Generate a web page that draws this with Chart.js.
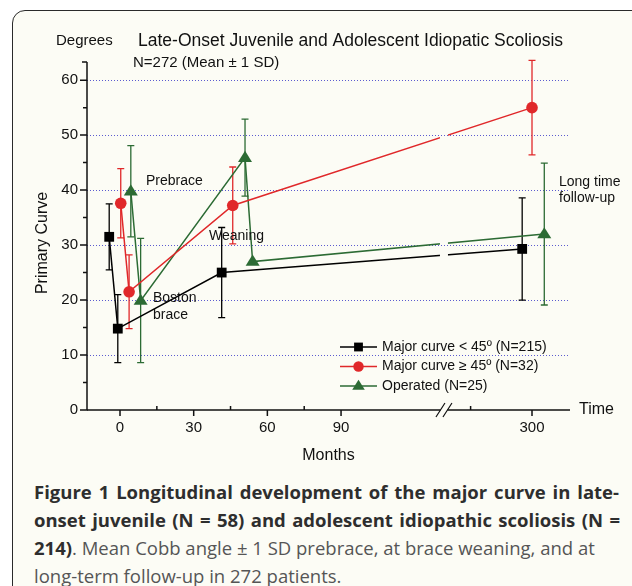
<!DOCTYPE html>
<html>
<head>
<meta charset="utf-8">
<script src="https://cdn.jsdelivr.net/npm/chart.js"></script>
<style>
html,body{margin:0;padding:0;width:632px;height:586px;overflow:hidden;background:#fff;}
#frame{position:absolute;left:12px;top:10px;width:680px;height:640px;border:1.5px solid #2a2a2a;border-radius:13px;background:#fcfcf5;box-sizing:border-box;}
#wrap{position:absolute;left:0;top:0;width:632px;height:470px;}
#caption{position:absolute;left:34px;top:478px;width:600px;font-family:"Open Sans",sans-serif;font-size:18.5px;line-height:28px;color:#555;}
#caption div{white-space:nowrap;}
#caption b{color:#2e2e2e;font-weight:700;}
</style>
</head>
<body>
<div id="frame"></div>
<div id="wrap"><canvas id="c" width="632" height="470"></canvas></div>
<div id="caption">
<div class="j" data-w="585"><b>Figure 1 Longitudinal development of the major curve in late-</b></div>
<div class="j" data-w="586"><b>onset juvenile (N = 58) and adolescent idiopathic scoliosis (N =</b></div>
<div><b>214)</b>. Mean Cobb angle ± 1 SD prebrace, at brace weaning, and at</div>
<div>long-term follow-up in 272 patients.</div>
</div>
<script>
// ---------------- data ----------------
const seriesNames = ['Major curve < 45º (N=215)', 'Major curve ≥ 45º (N=32)', 'Operated (N=25)'];

const blackMonths = [-4.4, -0.9, 41.4, 296];
const blackMean   = [31.5, 14.8, 25.0, 29.3];
const blackSD     = [6.0, 6.2, 8.2, 9.3];

const redMonths = [0.3, 3.7, 45.9, 300];
const redMean   = [37.6, 21.5, 37.2, 55.0];
const redSD     = [6.3, 6.7, 7.0, 8.6];

const greenMonths = [4.4, 8.4, 50.9, 54.0, 305];
const greenMean   = [39.8, 19.9, 45.9, 27.0, 32.0];
const greenSD     = [8.3, 11.3, 7.0, null, 12.9];

const xTickMonths  = [0, 30, 60, 90, 300];
const xMinorMonths = [15, 45, 75, 275];
const yTickValues  = [0, 10, 20, 30, 40, 50, 60];
const yMinorValues = [5, 15, 25, 35, 45, 55];

// ---------------- axis break ----------------
const BREAK_SHIFT = 132.25;     // months cut out by the "//" break
const BREAK_AT = 131.9;         // axis position of the break mark
const toAxis = m => (m > 150 ? m - BREAK_SHIFT : m);
const pts = (months, mean) => months.map((m, i) => ({x: toAxis(m), y: mean[i]}));

const FONT = '"Liberation Sans", Arial, Helvetica, sans-serif';
const INK = '#111111';
const COLORS = ['#000000', '#e0282a', '#2c6b34'];
const STYLES = ['rect', 'circle', 'triangle'];
const SIZES = [4.9, 5.8, 7.0];

Chart.defaults.font.family = FONT;
Chart.defaults.color = INK;

function drawMarker(ctx, style, x, y, s, color) {
  ctx.save();
  ctx.fillStyle = color;
  ctx.beginPath();
  if (style === 'rect') {
    ctx.rect(x - s, y - s, 2 * s, 2 * s);
  } else if (style === 'circle') {
    ctx.arc(x, y, s, 0, Math.PI * 2);
  } else {
    const h = s * 1.6;
    ctx.moveTo(x, y - h * 0.62);
    ctx.lineTo(x + s, y + h * 0.38);
    ctx.lineTo(x - s, y + h * 0.38);
    ctx.closePath();
  }
  ctx.fill();
  ctx.restore();
}

function mkDataset(i, months, mean, sd) {
  return {
    label: seriesNames[i],
    data: pts(months, mean),
    sd: sd,
    borderColor: COLORS[i],
    backgroundColor: COLORS[i],
    borderWidth: 1.5,
    pointRadius: 0,
    tension: 0,
    fill: false
  };
}

const decor = {
  id: 'decor',
  beforeDatasetsDraw(chart) {
    const {ctx, scales: {x, y}} = chart;
    chart.data.datasets.forEach((ds) => {
      ctx.save();
      ctx.strokeStyle = ds.borderColor;
      ctx.lineWidth = 1.3;
      ds.data.forEach((p, i) => {
        const sd = ds.sd[i];
        if (sd == null) return;
        const px = x.getPixelForValue(p.x);
        const t = y.getPixelForValue(p.y + sd), b = y.getPixelForValue(p.y - sd);
        ctx.beginPath();
        ctx.moveTo(px, t); ctx.lineTo(px, b);
        ctx.moveTo(px - 3.5, t); ctx.lineTo(px + 3.5, t);
        ctx.moveTo(px - 3.5, b); ctx.lineTo(px + 3.5, b);
        ctx.stroke();
      });
      ctx.restore();
    });
    const gx = x.getPixelForValue(BREAK_AT);
    ctx.save();
    ctx.beginPath();
    ctx.rect(0, 0, gx - 4, chart.height);
    ctx.rect(gx + 4, 0, chart.width - gx - 4, chart.height);
    ctx.clip();
  },
  afterDatasetsDraw(chart) {
    const {ctx, scales: {x, y}} = chart;
    ctx.restore();
    chart.data.datasets.forEach((ds, di) => {
      ds.data.forEach(p => {
        drawMarker(ctx, STYLES[di], x.getPixelForValue(p.x), y.getPixelForValue(p.y), SIZES[di], COLORS[di]);
      });
    });
  },
  afterDraw(chart) {
    const {ctx, chartArea: ca, scales: {x, y}} = chart;
    ctx.save();
    ctx.strokeStyle = INK;
    ctx.lineWidth = 1.5;
    ctx.beginPath();
    ctx.moveTo(ca.left, ca.top); ctx.lineTo(ca.left, ca.bottom + 0.75);
    ctx.moveTo(ca.left - 5, ca.top); ctx.lineTo(ca.left, ca.top);
    yTickValues.forEach(v => { const py = y.getPixelForValue(v); ctx.moveTo(ca.left - 7, py); ctx.lineTo(ca.left, py); });
    yMinorValues.forEach(v => { const py = y.getPixelForValue(v); ctx.moveTo(ca.left - 4, py); ctx.lineTo(ca.left, py); });
    ctx.stroke();
    const gx = x.getPixelForValue(BREAK_AT);
    const by = ca.bottom;
    ctx.beginPath();
    ctx.moveTo(ca.left, by); ctx.lineTo(gx - 3.5, by);
    ctx.moveTo(gx + 3.5, by); ctx.lineTo(ca.right, by);
    xTickMonths.forEach(m => { const px = x.getPixelForValue(toAxis(m)); ctx.moveTo(px, by); ctx.lineTo(px, by + 6); });
    xMinorMonths.forEach(m => { const px = x.getPixelForValue(toAxis(m)); ctx.moveTo(px, by); ctx.lineTo(px, by - 4); });
    ctx.stroke();
    ctx.lineWidth = 1.2;
    ctx.beginPath();
    [-3.5, 3.5].forEach(d => { ctx.moveTo(gx + d - 4.5, by + 7); ctx.lineTo(gx + d + 4.5, by - 7); });
    ctx.stroke();

    ctx.fillStyle = INK;
    ctx.textBaseline = 'middle';
    ctx.textAlign = 'left';
    ctx.font = '15px ' + FONT;
    ctx.fillText('Degrees', 56, 41);
    ctx.font = '17.5px ' + FONT;
    ctx.fillText('Late-Onset Juvenile and Adolescent Idiopatic Scoliosis', 138, 41);
    ctx.font = '15px ' + FONT;
    ctx.fillText('N=272 (Mean ± 1 SD)', 133, 63);
    ctx.font = '16px ' + FONT;
    ctx.fillText('Time', 579, by);
    ctx.font = '14px ' + FONT;
    ctx.fillText('Prebrace', 146, 181);
    ctx.fillText('Boston', 153, 298);
    ctx.fillText('brace', 153, 315);
    ctx.fillText('Weaning', 209, 236);
    ctx.fillText('Long time', 559, 182);
    ctx.fillText('follow-up', 559, 198);
    ctx.save();
    ctx.translate(43, 243);
    ctx.rotate(-Math.PI / 2);
    ctx.textAlign = 'center';
    ctx.font = '16px ' + FONT;
    ctx.fillText('Primary Curve', 0, 0);
    ctx.restore();

    const rows = [347, 366.5, 386];
    rows.forEach((ry, i) => {
      ctx.strokeStyle = COLORS[i];
      ctx.lineWidth = 1.5;
      ctx.beginPath(); ctx.moveTo(340, ry); ctx.lineTo(377, ry); ctx.stroke();
      drawMarker(ctx, STYLES[i], 358.5, ry, SIZES[i] * 0.9, COLORS[i]);
      ctx.fillStyle = INK;
      ctx.font = '14px ' + FONT;
      ctx.fillText(seriesNames[i], 382, ry);
    });
    ctx.restore();
  }
};

new Chart(document.getElementById('c'), {
  type: 'line',
  data: {
    datasets: [
      mkDataset(0, blackMonths, blackMean, blackSD),
      mkDataset(1, redMonths, redMean, redSD),
      mkDataset(2, greenMonths, greenMean, greenSD)
    ]
  },
  options: {
    responsive: false,
    animation: false,
    events: [],
    layout: {padding: {left: 0, right: 62, top: 62, bottom: 0}},
    plugins: {legend: {display: false}, tooltip: {enabled: false}, title: {display: false}},
    scales: {
      x: {
        type: 'linear', min: -13.44, max: 183.22,
        grid: {display: false, drawTicks: false},
        border: {display: false},
        afterBuildTicks: s => { s.ticks = xTickMonths.map(m => ({value: toAxis(m)})); },
        afterFit: s => { s.height = 60; },
        ticks: {callback: (v, i) => String(xTickMonths[i]), font: {size: 15}, color: INK, padding: 9, maxRotation: 0, autoSkip: false},
        title: {display: true, text: 'Months', font: {size: 16}, color: INK, padding: {top: 0, bottom: 4.4}}
      },
      y: {
        type: 'linear', min: 0, max: 63.3,
        grid: {color: c => (c.tick && c.tick.value > 0 ? '#5c5cd0' : 'rgba(0,0,0,0)'), lineWidth: 1, drawTicks: false},
        border: {display: false, dash: [1, 2]},
        afterBuildTicks: s => { s.ticks = yTickValues.map(v => ({value: v})); },
        afterFit: s => { s.width = 87; },
        ticks: {font: {size: 15}, color: INK, padding: 9}
      }
    }
  },
  plugins: [decor]
});

// justify the first two caption lines to the measured reference width
document.querySelectorAll('#caption .j').forEach(el => {
  const target = parseFloat(el.dataset.w);
  const span = document.createElement('span');
  while (el.firstChild) span.appendChild(el.firstChild);
  el.appendChild(span);
  const natural = span.getBoundingClientRect().width;
  const spaces = (span.textContent.match(/ /g) || []).length;
  if (spaces) span.style.wordSpacing = ((target - natural) / spaces) + 'px';
});
</script>
</body>
</html>
